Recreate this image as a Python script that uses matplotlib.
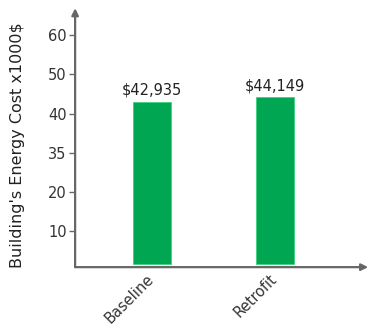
import matplotlib
matplotlib.use('Agg')
import matplotlib.pyplot as plt

# data
categories = ['Baseline', 'Retrofit']
costs = [42.935, 44.149]
cost_labels = ['$42,935', '$44,149']
tick_pos = [10, 20, 30, 40, 50, 60]
tick_labels = ['10', '20', '35', '40', '50', '60']

plt.rcParams['font.family'] = ['DejaVu Sans']

fig = plt.figure(figsize=(3.70, 3.29), dpi=100)
ax = fig.add_axes([0.203, 0.188, 0.792, 0.787])

bars = ax.bar(range(len(categories)), [c - 1.5 for c in costs], bottom=1.5,
              width=0.31, color='#00a651', edgecolor='#3fd27a', linewidth=0.6)
ax.bar_label(bars, labels=cost_labels, padding=3, fontsize=10.5, color='#222222')

ax.set_xlim(-0.622, 1.76)
ax.set_ylim(0.8, 66.9)
ax.set_yticks(tick_pos)
ax.set_yticklabels(tick_labels)
ax.set_xticks(range(len(categories)))
ax.set_xticklabels(categories, rotation=45, ha='right', va='center',
                   rotation_mode='anchor')

for s in ax.spines.values():
    s.set_visible(False)

axis_col = '#666666'
arrow = dict(arrowstyle='-|>', color=axis_col, lw=1.6, mutation_scale=10,
             shrinkA=0, shrinkB=0)
ax.annotate('', xy=(0, 1), xytext=(0, 0), xycoords='axes fraction',
            arrowprops=arrow)
ax.annotate('', xy=(1, 0), xytext=(0, 0), xycoords='axes fraction',
            arrowprops=arrow)

ax.tick_params(axis='y', length=4, width=1, color=axis_col, labelsize=10.5,
               labelcolor='#333333', pad=2)
ax.tick_params(axis='x', length=0, labelsize=10.5, labelcolor='#333333', pad=7)

ax.set_ylabel("Building's Energy Cost x1000$", fontsize=11.5, color='#222222')
ax.yaxis.set_label_coords(-0.17, 0.47)

fig.savefig('out.png', dpi=100)
